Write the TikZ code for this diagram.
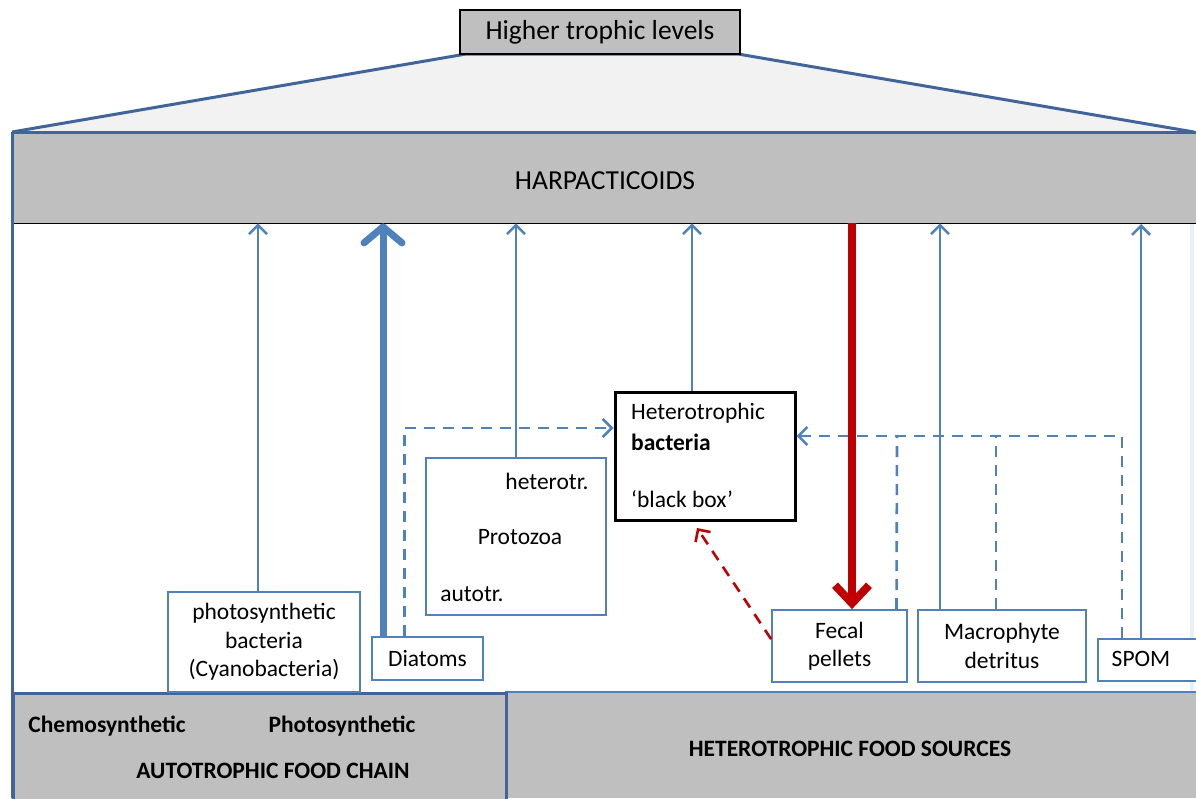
\documentclass[tikz,border=0pt]{standalone}
\usepackage{fontspec}
\setmainfont{Carlito}
\usetikzlibrary{arrows.meta}
\definecolor{edgeblue}{HTML}{4F81BD}
\definecolor{frameblue}{HTML}{41659A}
\definecolor{panelgray}{HTML}{BFBFBF}
\definecolor{lightfill}{HTML}{F2F2F2}
\definecolor{feedred}{HTML}{C00000}
\begin{document}
\begin{tikzpicture}[x=1pt,y=-1pt,
  font=\fontsize{23.5}{28.5}\selectfont,
  headfont/.style={font=\fontsize{27.5}{32}\selectfont},
  boldfont/.style={font=\fontsize{23.5}{28}\selectfont\bfseries},
  box/.style={draw=edgeblue, line width=1.8pt, fill=white, inner sep=0pt, align=center},
  lbl/.style={inner sep=0pt},
  feed/.style={draw=edgeblue, line width=2.5pt, -{Straight Barb[length=9pt,width=18pt]}},
  mainfeed/.style={draw=edgeblue, line width=7pt, -{Straight Barb[length=16pt,width=38pt,round]}},
  redfeed/.style={draw=feedred, line width=8pt, -{Straight Barb[length=18pt,width=34pt]}},
  detritus/.style={draw=edgeblue, line width=2.6pt, dash pattern=on 11pt off 8pt},
  reddash/.style={draw=feedred, line width=2.6pt, dash pattern=on 11pt off 8pt, -{Straight Barb[length=9pt,width=18pt]}}
]
\useasboundingbox (0,0) rectangle (1196,798);

% pyramid towards the higher trophic levels
\coordinate (apexL) at (466,54);
\coordinate (apexR) at (738,54);
\coordinate (baseL) at (12,132);
\coordinate (baseR) at (1196,132);
\fill[lightfill] (baseL) -- (apexL) -- (apexR) -- (1194,132) -- cycle;
\draw[frameblue, line width=3pt, line join=round] (baseL) -- (apexL) -- (apexR) -- (1194,132);
\node[draw=black, fill=panelgray, line width=1.5pt, minimum width=280pt, minimum height=44pt, inner sep=0pt, headfont]
  (htl) at (600,32) {Higher trophic levels};

% harpacticoid band
\node[fill=panelgray, minimum width=1184pt, minimum height=91pt, inner sep=0pt, anchor=north west]
  (harp) at (baseL) {};
\node[lbl, headfont] (harptext) at (605,181) {HARPACTICOIDS};
\draw[black, line width=1.5pt] (harp.south west) -- (harp.south east);
\draw[frameblue, line width=3pt] (baseL) -- (baseR);
\draw[frameblue, line width=3pt] (baseL) -- (12,798);
\draw[edgeblue!12, line width=4pt] (1192,224) -- (1192,691);

% bottom panels
\node[fill=panelgray, minimum width=691pt, minimum height=106pt, inner sep=0pt, anchor=north west]
  (hetero) at (505,692) {};
\draw[edgeblue, line width=2.5pt] (hetero.north west) -- (hetero.north east);
\node[draw=frameblue, fill=panelgray, line width=3pt, minimum width=493pt, minimum height=108pt,
  inner sep=0pt, anchor=north west] (auto) at (12,692) {};
\node[lbl, boldfont] (chemo) at (107,726) {Chemosynthetic};
\node[lbl, boldfont] (photo) at (342,726) {Photosynthetic};
\node[lbl, boldfont] (autotext) at (273,771) {AUTOTROPHIC FOOD CHAIN};
\node[lbl, boldfont] (heterotext) at (850,749) {HETEROTROPHIC FOOD SOURCES};

% food sources
\node[box, minimum width=192pt, minimum height=100pt] (cyano) at (264,642)
  {photosynthetic\\bacteria\\(Cyanobacteria)};
\node[box, minimum width=111pt, minimum height=43pt] (diatoms) at (427.5,658.5) {Diatoms};
\node[box, minimum width=180pt, minimum height=157pt] (proto) at (516,536.5) {};
\node[lbl] (heterotr) at (547,481) {heterotr.};
\node[lbl] (protoname) at (520,537) {Protozoa};
\node[lbl] (autotr) at (472,594) {autotr.};
\node[draw=black, line width=3pt, fill=white, minimum width=180pt, minimum height=128pt, inner sep=0pt]
  (bact) at (705,456) {};
\node[lbl, anchor=west] (bact1) at (631,413) {Heterotrophic};
\node[lbl, anchor=west, boldfont] (bact2) at (631,442) {bacteria};
\node[lbl, anchor=west] (bact3) at (631,499) {‘black box’};
\node[box, minimum width=135pt, minimum height=72pt] (fecal) at (839.5,646) {Fecal\\pellets};
\node[box, minimum width=168pt, minimum height=72pt] (macro) at (1002,646) {Macrophyte\\detritus};
\node[box, minimum width=110pt, minimum height=42pt, anchor=north west] (spom) at (1097,638) {};
\node[lbl] (spomtext) at (1141,659) {SPOM};

% pathways through the bacteria
\draw[detritus, -{Straight Barb[length=9pt,width=18pt]}]
  ([xshift=-23pt]diatoms.north) |- ([yshift=28pt]bact.west);
\draw[detritus, -{Straight Barb[length=9pt,width=18pt]}]
  (1122,638) |- ([yshift=20pt]bact.east);
\draw[detritus] ([xshift=57pt]fecal.north) -- (897,436);
\draw[detritus] ([xshift=-6pt]macro.north) -- (996,436);
\draw[reddash] ([yshift=-30pt]fecal.north west) -- (697,528);

% grazing on the food sources
\draw[feed] ([xshift=-6pt]cyano.north) -- ([xshift=-6pt]cyano.north |- harp.south);
\draw[mainfeed] ([xshift=-44.5pt]diatoms.north) -- ([xshift=-44.5pt]diatoms.north |- harp.south);
\draw[feed] (proto.north) -- (proto.north |- harp.south);
\draw[feed] ([xshift=-13pt]bact.north) -- ([xshift=-13pt]bact.north |- harp.south);
\draw[feed] ([xshift=-62pt]macro.north) -- ([xshift=-62pt]macro.north |- harp.south);
\draw[feed] (1141,638) -- (1141,224);
\draw[redfeed] (harp.south -| 852,0) -- ([xshift=12.5pt]fecal.north);
\end{tikzpicture}
\end{document}
